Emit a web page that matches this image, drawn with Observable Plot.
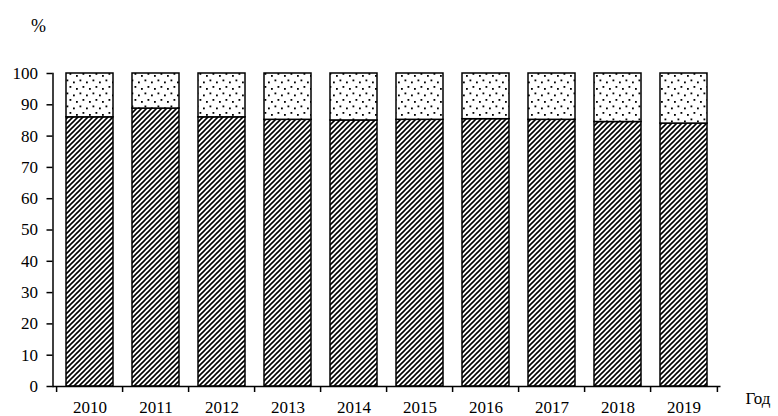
<!DOCTYPE html>
<html>
<head>
<meta charset="utf-8">
<script src="https://cdn.jsdelivr.net/npm/d3@7"></script>
<script src="https://cdn.jsdelivr.net/npm/@observablehq/plot@0.6"></script>
<style>
  html, body { margin: 0; padding: 0; background: #fff; }
  #chart svg, #chart svg text { font-family: "Liberation Serif", "Times New Roman", Times, serif !important; }
</style>
</head>
<body>
<div id="chart"></div>
<script>
const years = ["2010","2011","2012","2013","2014","2015","2016","2017","2018","2019"];
const lowerShare = [86.0, 88.8, 86.0, 85.2, 85.0, 85.2, 85.4, 85.2, 84.5, 84.0];
const total = 100;
const yTicks = [0,10,20,30,40,50,60,70,80,90,100];
const yUnit = "%";
const xUnit = "Год";

const data = years.map((y, i) => ({year: y, lower: lowerShare[i], top: total}));

const W = 778, H = 416;
const mL = 52.5, mR = 57.5, mT = 73, mB = 30;
const halfStep = (W - mL - mR) / years.length / 2;
const font = "Liberation Serif";

const svg = Plot.plot({
  width: W,
  height: H,
  marginLeft: mL,
  marginRight: mR,
  marginTop: mT,
  marginBottom: mB,
  style: {fontFamily: font, fontSize: "17px", color: "#000", background: "#fff", overflow: "visible"},
  x: {type: "band", domain: years, paddingInner: 0.29, paddingOuter: 0.145, label: null},
  y: {domain: [0, total], label: null},
  marks: [
    Plot.barY(data, {x: "year", y1: 0, y2: "lower", fill: "url(#hatch)", stroke: "#000", strokeWidth: 1.5}),
    Plot.barY(data, {x: "year", y1: "lower", y2: "top", fill: "url(#dots)", stroke: "#000", strokeWidth: 1.5}),
    Plot.axisY({ticks: yTicks, tickSize: 6, tickPadding: 9, strokeWidth: 1.5, label: null, fontSize: 17}),
    Plot.axisX({ticks: years, tickSize: 6, text: null, dx: -halfStep, strokeWidth: 1.5, label: null}),
    Plot.axisX({ticks: [years[years.length - 1]], tickSize: 6, text: null, dx: halfStep, strokeWidth: 1.5, label: null}),
    Plot.axisX({ticks: years, tickSize: 0, tickPadding: 14, label: null, fontSize: 17}),
    Plot.ruleY([0], {stroke: "#000", strokeWidth: 1.5}),
    Plot.frame({anchor: "left", stroke: "#000", strokeWidth: 1.5}),
    Plot.text([yUnit], {frameAnchor: "top-left", text: d => d, dx: -14.5, dy: -42, textAnchor: "middle", lineAnchor: "bottom", fontSize: 18}),
    Plot.text([xUnit], {frameAnchor: "bottom-right", text: d => d, dx: 24.5, dy: 17, textAnchor: "start", lineAnchor: "bottom", fontSize: 17})
  ]
});

const ns = "http://www.w3.org/2000/svg";
const defs = document.createElementNS(ns, "defs");
defs.innerHTML = `
  <pattern id="hatch" patternUnits="userSpaceOnUse" width="5" height="5">
    <rect width="5" height="5" fill="#fff"/>
    <path d="M-1,1 l2,-2 M0,5 l5,-5 M4,6 l2,-2" stroke="#000" stroke-width="1.6"/>
  </pattern>
  <pattern id="dots" patternUnits="userSpaceOnUse" width="13" height="13">
    <rect width="13" height="13" fill="#fff"/>
    <rect x="1.5" y="1.5" width="1.8" height="1.8" fill="#000"/>
    <rect x="8" y="3.5" width="1.8" height="1.8" fill="#000"/>
    <rect x="4.5" y="8" width="1.8" height="1.8" fill="#000"/>
    <rect x="11" y="10" width="1.8" height="1.8" fill="#000"/>
  </pattern>`;
svg.insertBefore(defs, svg.firstChild);

document.getElementById("chart").appendChild(svg);
</script>
</body>
</html>
